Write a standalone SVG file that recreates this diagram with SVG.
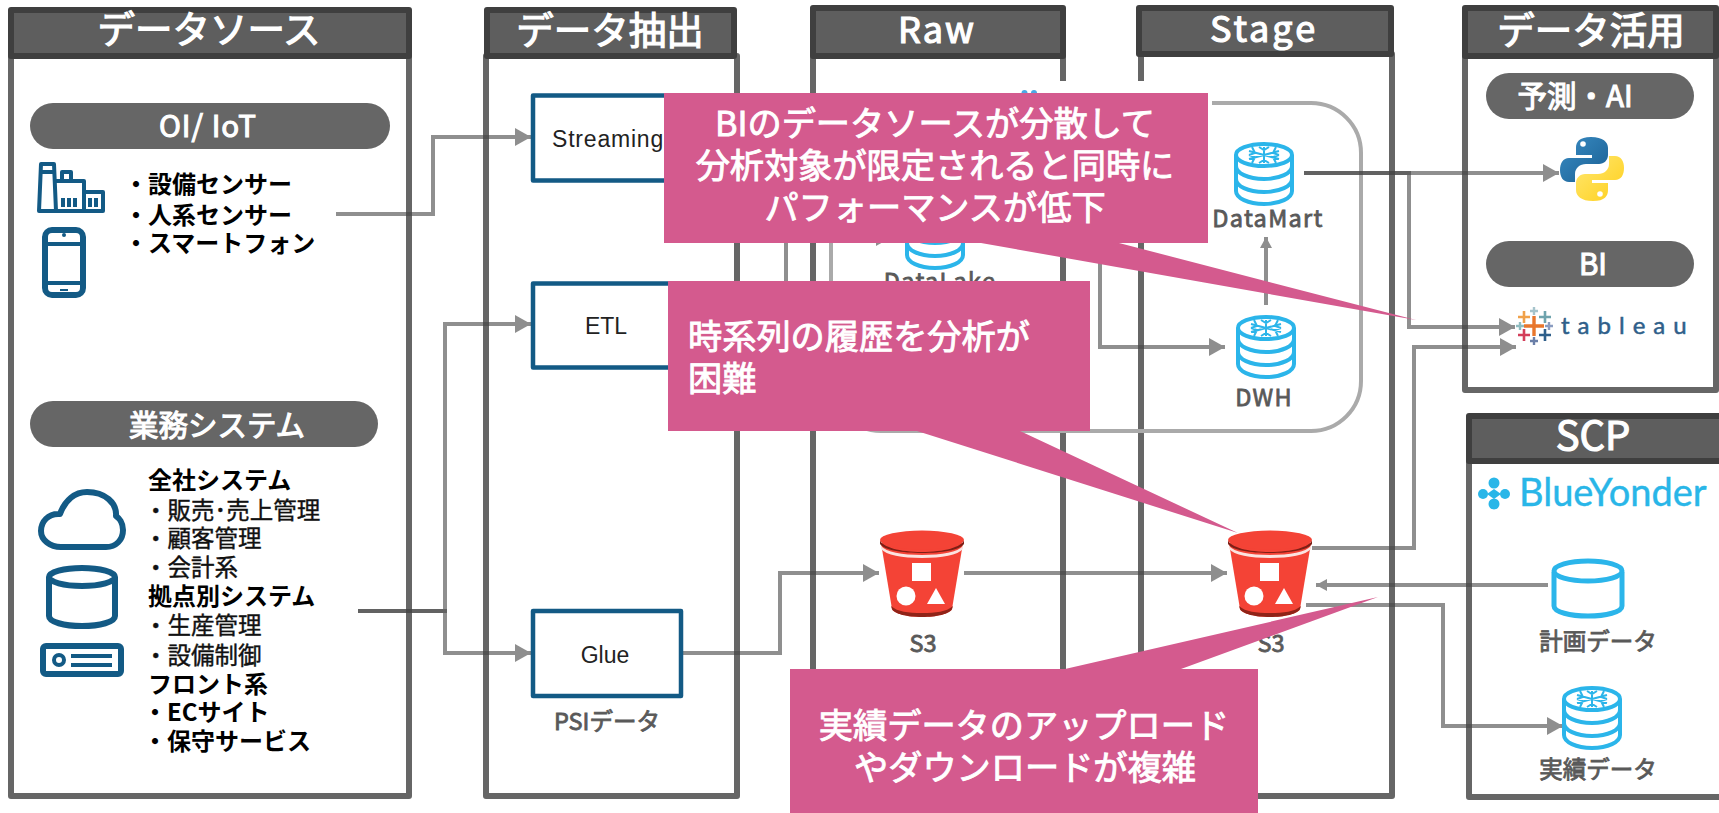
<svg xmlns="http://www.w3.org/2000/svg" width="1719" height="813" viewBox="0 0 1719 813">
<style>
text{font-family:"Noto Sans CJK JP","Noto Sans",sans-serif}
.body{fill:#fff;stroke:#666;stroke-width:6;stroke-linejoin:round}
.head{fill:#5e5e5e;stroke:#3f3f3f;stroke-width:6;stroke-linejoin:round}
.title{font-size:37.5px;fill:#fff;stroke:#fff;stroke-width:1.2;text-anchor:middle}
.pill{fill:#666}
.pt{font-size:29.5px;fill:#fff;stroke:#fff;stroke-width:1.1;text-anchor:middle}
.b{font-size:24px;font-weight:700;fill:#000}
.r{font-size:23.5px;fill:#111;stroke:#111;stroke-width:.4}
.lb{font-size:23.5px;fill:#595959;stroke:#595959;stroke-width:.8;text-anchor:middle}
.ic{fill:none;stroke:#135a85;stroke-width:6;stroke-linejoin:round}
.ic2{fill:none;stroke:#135a85;stroke-width:4;stroke-linejoin:round}
.sf{fill:none;stroke:#2bb5ea;stroke-width:4}
.box{fill:#fff;stroke:#135a85;stroke-width:4.5;stroke-linejoin:round}
.bt{font-family:"Liberation Sans",Arial,sans-serif;font-size:23px;fill:#222;text-anchor:middle}
.cn{fill:none;stroke:#444;stroke-opacity:.6;stroke-width:4}
.call{fill:#d45a8e}
.ct{font-size:34.2px;fill:#fff;stroke:#fff;stroke-width:.9}
</style>
<defs>
<linearGradient id="pyb" x1="0" y1="0" x2="1" y2="1"><stop offset="0" stop-color="#3a8cc4"/><stop offset="1" stop-color="#195f92"/></linearGradient>
<linearGradient id="pyy" x1="0" y1="0" x2="1" y2="1"><stop offset="0" stop-color="#ffe873"/><stop offset="1" stop-color="#ffcf1a"/></linearGradient>
<marker id="ah" markerUnits="userSpaceOnUse" markerWidth="17" markerHeight="18" refX="16" refY="9" orient="auto"><path d="M0 0L16 9L0 18Z" fill="#8e8e8e"/></marker>
<marker id="as" markerUnits="userSpaceOnUse" markerWidth="12" markerHeight="12" refX="11" refY="6" orient="auto"><path d="M0 0L11 6L0 12Z" fill="#8e8e8e"/></marker>
<g id="snow">
<path class="sf" d="M2 13V49C2 56 14 62 30 62S58 56 58 49V13"/>
<ellipse class="sf" cx="30" cy="13" rx="28" ry="11"/>
<path class="sf" d="M2 24C2 31 14 37 30 37S58 31 58 24M2 37C2 44 14 50 30 50S58 44 58 37"/>
<path d="M30 5V21M15 9L45 17M45 9L15 17M25 5L30 8L35 5M25 21L30 18L35 21M18 5L21 11L15 13M42 5L39 11L45 13M18 21L21 15L15 13M42 21L39 15L45 13" fill="none" stroke="#2bb5ea" stroke-width="2"/>
</g>
<g id="bucket">
<path d="M1 12L12 78C14 83 28 86 42 86S70 83 72 78L83 12Z" fill="#f44336"/>
<path d="M11 75L12 78C14 83 28 86 42 86S70 83 72 78L73 75C66 81 56 82 42 82S18 81 11 75Z" fill="#8f2318"/>
<path d="M0 9C2 16 20 21 42 21S82 16 84 9L84 13C80 19 62 22 42 22S4 19 0 13Z" fill="#7d1f16"/>
<path d="M1 15C6 21 22 24 42 24S78 21 83 15L83 18C78 24 62 27 42 27S6 24 1 18Z" fill="#fbe3e0"/>
<ellipse cx="42" cy="9" rx="42" ry="9.5" fill="#f44336"/>
<rect x="32" y="32" width="19" height="18" fill="#fff"/>
<circle cx="26" cy="65" r="9.5" fill="#fff"/>
<path d="M56 57L65 73H47Z" fill="#fff"/>
</g>
</defs>

<g id="panel-source"><rect class="body" x="11" y="56" width="398" height="740"/><rect class="head" x="11" y="10" width="398" height="46"/><text class="title" x="209" y="43">データソース</text></g>
<g id="panel-extract"><rect class="body" x="486" y="56" width="251" height="740"/><rect class="head" x="487" y="10" width="247" height="46"/><text class="title" x="610" y="44">データ抽出</text></g>
<g id="panel-raw"><rect class="body" x="813" y="56" width="250" height="740"/><rect class="head" x="813" y="8" width="250" height="48"/><text class="title" x="937" y="43" letter-spacing="2" style="font-size:36px">Raw</text></g>
<g id="panel-stage"><rect class="body" x="1141" y="54" width="251" height="742"/><rect class="head" x="1139" y="8" width="252" height="46"/><text class="title" x="1264" y="42" letter-spacing="3" style="font-size:36px">Stage</text></g>
<g id="panel-use"><rect class="body" x="1465" y="56" width="251" height="334"/><rect class="head" x="1465" y="8" width="251" height="48"/><text class="title" x="1591" y="44">データ活用</text></g>
<g id="panel-scp"><rect class="body" x="1469" y="461" width="253" height="336"/><rect class="head" x="1469" y="416" width="253" height="45"/><text class="title" x="1593" y="450" style="font-size:40px">SCP</text></g>

<rect x="1000" y="81" width="150" height="14" fill="#fff"/>
<circle cx="1024.5" cy="93" r="3" fill="#4aa9e4"/><circle cx="1034" cy="93" r="3" fill="#4aa9e4"/>
<g id="snowflake-group"><rect x="831" y="103" width="530" height="328" rx="50" fill="none" stroke="#aaa" stroke-width="4"/><rect x="1207" y="99" width="5" height="8" fill="#fff"/></g>

<g id="connectors">
<path class="cn" marker-end="url(#ah)" d="M336 214H433V137H531"/>
<path class="cn" marker-end="url(#ah)" d="M358 611H445V324H531"/>
<path class="cn" marker-end="url(#ah)" d="M358 611H445V653H531"/>
<path class="cn" marker-end="url(#ah)" d="M682 137H786V237H892"/>
<path class="cn" d="M682 324H786V237"/>
<path class="cn" marker-end="url(#ah)" d="M990 237H1100V347H1225"/>
<path class="cn" marker-end="url(#as)" d="M1266 305V237"/>
<path class="cn" marker-end="url(#ah)" d="M1304 173H1559"/>
<path class="cn" marker-end="url(#ah)" d="M1304 173H1409V327H1515"/>
<path class="cn" marker-end="url(#ah)" d="M1312 548H1414V347H1516"/>
<path class="cn" marker-end="url(#ah)" d="M682 653H780V573H879"/>
<path class="cn" marker-end="url(#ah)" d="M964 573H1227"/>
<path class="cn" marker-end="url(#as)" d="M1548 585H1316"/>
<path class="cn" marker-end="url(#ah)" d="M1306 605H1443V726H1563"/>
</g>

<g id="oi-iot">
<rect class="pill" x="30" y="103" width="360" height="46" rx="23"/><text class="pt" x="208" y="137" letter-spacing="1">OI/ IoT</text>
<path class="ic2" d="M41 164H54L56 211H39ZM41 172H54"/><path class="ic2" d="M56 181H84V211H56M62 181V172H71V181M84 192H103V211H84"/>
<path class="ic2" d="M63 198V207M69 198V207M75 198V207M90 198V207M96 198V207" stroke-width="2.4"/>
<rect class="ic" x="45" y="230" width="38" height="65" rx="7"/>
<path class="ic2" d="M45 244H83M45 283H83"/><circle cx="64" cy="235" r="2" fill="#135a85"/><path d="M60 290H68" stroke="#135a85" stroke-width="2"/>
<text class="b" x="124" y="193">・設備センサー</text>
<text class="b" x="124" y="224">・人系センサー</text>
<text class="b" x="124" y="252">・スマートフォン</text>
</g>
<g id="gyomu">
<rect class="pill" x="30" y="401" width="348" height="46" rx="23"/><text class="pt" x="217" y="436">業務システム</text>
<path class="ic" d="M61 547H106C116 547 123 540 123 530C123 523 119 518 116 516C117 503 105 492 87 492C75 492 65 500 60 514C48 513 41 522 41 531C41 540 50 547 61 547Z"/>
<path class="ic" d="M49 577V616C49 622 64 626 82 626S115 622 115 616V577"/><ellipse class="ic" cx="82" cy="577" rx="33" ry="9"/>
<rect class="ic" x="43" y="646" width="78" height="28" rx="3"/><circle class="ic2" cx="59" cy="660" r="5"/><path d="M71 656H112M71 665H112" stroke="#135a85" stroke-width="4"/>
<text class="b" x="148" y="489">全社システム</text>
<text class="r" x="144" y="519">・販売･売上管理</text>
<text class="r" x="144" y="547">・顧客管理</text>
<text class="r" x="144" y="576">・会計系</text>
<text class="b" x="148" y="605">拠点別システム</text>
<text class="r" x="144" y="634">・生産管理</text>
<text class="r" x="144" y="664">・設備制御</text>
<text class="b" x="148" y="693">フロント系</text>
<text class="b" x="143" y="721">・ECサイト</text>
<text class="b" x="143" y="750">・保守サービス</text>
</g>

<g id="streaming"><rect class="box" x="533" y="95.5" width="150" height="85"/><text class="bt" x="552" y="147" style="text-anchor:start" letter-spacing=".8">Streaming</text></g>
<g id="etl"><rect class="box" x="533" y="283.5" width="150" height="84"/><text class="bt" x="606" y="334">ETL</text></g>
<g id="glue"><rect class="box" x="533" y="611" width="148" height="85"/><text class="bt" x="605" y="663">Glue</text><text class="lb" x="607" y="730">PSIデータ</text></g>

<g id="datalake"><use href="#snow" x="905" y="206"/><text class="lb" x="940" y="290" letter-spacing="1.3">DataLake</text></g>
<g id="datamart"><use href="#snow" x="1234" y="142"/><text class="lb" x="1268" y="227" letter-spacing="1.3">DataMart</text></g>
<g id="dwh"><use href="#snow" x="1236" y="315"/><text class="lb" x="1264" y="406" letter-spacing="1.3">DWH</text></g>
<g id="s3-raw"><use href="#bucket" x="880" y="531"/><text class="lb" x="923" y="652">S3</text></g>
<g id="s3-stage"><use href="#bucket" x="1228" y="531"/><text class="lb" x="1271" y="652">S3</text></g>

<g id="ai">
<rect class="pill" x="1486" y="73" width="208" height="46" rx="23"/><text class="pt" x="1575" y="107">予測・AI</text>
<path d="M1591 137C1579 137 1576 142 1576 148V155H1592V158H1569C1563 158 1560 163 1560 170S1563 182 1569 182H1575V174C1575 168 1580 164 1586 164H1599C1604 164 1608 160 1608 155V148C1608 142 1603 137 1591 137Z" fill="url(#pyb)"/>
<circle cx="1583" cy="144" r="2.8" fill="#fff"/>
<path d="M1593 201C1605 201 1608 196 1608 190V183H1592V180H1615C1621 180 1624 175 1624 168S1621 156 1615 156H1609V164C1609 170 1604 174 1598 174H1585C1580 174 1576 178 1576 183V190C1576 196 1581 201 1593 201Z" fill="url(#pyy)"/>
<circle cx="1600" cy="194" r="2.8" fill="#fff"/>
</g>
<g id="bi">
<rect class="pill" x="1486" y="241" width="208" height="46" rx="23"/><text class="pt" x="1593" y="275">BI</text>
<path d="M1534 316V336M1524 326H1544" stroke="#e8762c" stroke-width="3.4"/>
<path d="M1524 311V323M1518 317H1530" stroke="#f0a14a" stroke-width="2.6"/>
<path d="M1545 311V323M1539 317H1551" stroke="#6ea3ad" stroke-width="2.6"/>
<path d="M1524 329V341M1518 335H1530" stroke="#d33f5a" stroke-width="2.6"/>
<path d="M1545 329V341M1539 335H1551" stroke="#2f5f8a" stroke-width="2.6"/>
<path d="M1534 307V315M1530 311H1538" stroke="#a6c4cc" stroke-width="2.4"/>
<path d="M1534 337V345M1530 341H1538" stroke="#6a7fa8" stroke-width="2.4"/>
<path d="M1520 322V330M1516 326H1524" stroke="#8fbcc0" stroke-width="2.4"/>
<path d="M1549 322V330M1545 326H1553" stroke="#8a9cc0" stroke-width="2.4"/>
<text x="1561" y="334" font-size="24" fill="#2f5f8a" stroke="#2f5f8a" stroke-width=".5" letter-spacing="8" style="font-family:'Lato','Liberation Sans',sans-serif">tableau</text>
</g>

<g id="blueyonder">
<g fill="#29b6e8"><circle cx="1494" cy="483" r="5.5"/><circle cx="1494" cy="504" r="5.5"/><circle cx="1483" cy="494" r="5"/><circle cx="1505" cy="494" r="5"/><path d="M1487 494L1494 489L1501 494L1494 499Z"/></g>
<text x="1519" y="506" font-size="38" fill="#29b6e8" stroke="#29b6e8" stroke-width=".4" style="font-family:'Lato','Liberation Sans',sans-serif">BlueYonder</text>
</g>
<g id="plan"><path class="sf" style="stroke-width:5" d="M1554 572V606C1554 612 1570 616 1588 616S1622 612 1622 606V572"/><ellipse class="sf" style="stroke-width:5" cx="1588" cy="571" rx="34" ry="10"/><text class="lb" x="1598" y="650">計画データ</text></g>
<g id="actual"><use href="#snow" x="1562" y="686"/><text class="lb" x="1598" y="778">実績データ</text></g>

<g id="callout-1"><path class="call" d="M664 93H1208V243H1119L1416 320L981 243H664Z"/>
<text class="ct" x="935" y="136" text-anchor="middle">BIのデータソースが分散して</text><text class="ct" x="935" y="178" text-anchor="middle">分析対象が限定されると同時に</text><text class="ct" x="935" y="220" text-anchor="middle">パフォーマンスが低下</text></g>
<g id="callout-2"><path class="call" d="M668 281H1090V431H1020L1238 533L917 431H668Z"/>
<text class="ct" x="688" y="349">時系列の履歴を分析が</text><text class="ct" x="688" y="391">困難</text></g>
<g id="callout-3"><path class="call" d="M790 669H1065L1378 597L1181 669H1258V813H790Z"/>
<text class="ct" x="1024" y="738" text-anchor="middle">実績データのアップロード</text><text class="ct" x="1025" y="780" text-anchor="middle">やダウンロードが複雑</text></g>
</svg>
